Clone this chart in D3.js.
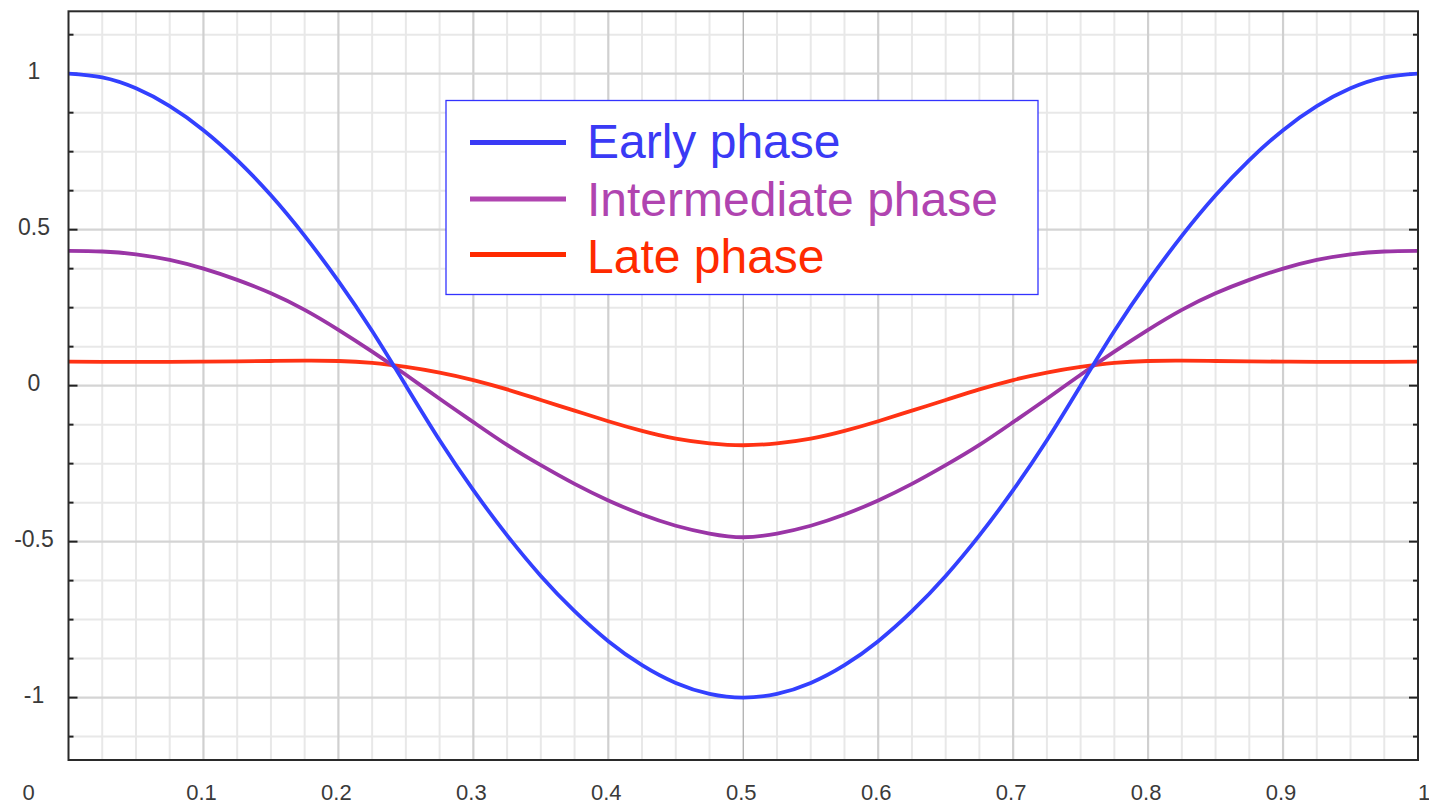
<!DOCTYPE html>
<html>
<head>
<meta charset="utf-8">
<script src="https://cdn.jsdelivr.net/npm/d3@7"></script>
<style>
  html, body { margin: 0; padding: 0; background: #fff; }
  svg { display: block; }
</style>
</head>
<body>
<svg id="chart" width="1429" height="805"></svg>
<script>
// ---------- data ----------
const xValues = [0, 0.025, 0.05, 0.075, 0.1, 0.125, 0.15, 0.175, 0.2, 0.225, 0.25, 0.275, 0.3, 0.325, 0.35, 0.375, 0.4, 0.425, 0.45, 0.475, 0.5,
  0.525, 0.55, 0.575, 0.6, 0.625, 0.65, 0.675, 0.7, 0.725, 0.75, 0.775, 0.8, 0.825, 0.85, 0.875, 0.9, 0.925, 0.95, 0.975, 1];

const earlyPhase = [1.0, 0.988, 0.953, 0.896, 0.819, 0.723, 0.61, 0.48, 0.335, 0.175, 0.0, -0.175, -0.335, -0.48, -0.61, -0.723, -0.819, -0.896, -0.953, -0.988, -1.0,
  -0.988, -0.953, -0.896, -0.819, -0.723, -0.61, -0.48, -0.335, -0.175, 0.0, 0.175, 0.335, 0.48, 0.61, 0.723, 0.819, 0.896, 0.953, 0.988, 1.0];

const intermediatePhase = [0.432, 0.430, 0.421, 0.403, 0.375, 0.339, 0.296, 0.243, 0.179, 0.109, 0.035, -0.042, -0.117, -0.19, -0.255, -0.315, -0.368, -0.413, -0.449, -0.474, -0.486,
  -0.474, -0.449, -0.413, -0.368, -0.315, -0.255, -0.19, -0.117, -0.042, 0.035, 0.109, 0.179, 0.243, 0.296, 0.339, 0.375, 0.403, 0.421, 0.430, 0.432];

const latePhase = [0.077, 0.076, 0.076, 0.076, 0.077, 0.078, 0.079, 0.080, 0.079, 0.073, 0.060, 0.042, 0.018, -0.012, -0.046, -0.080, -0.114, -0.145, -0.170, -0.185, -0.191,
  -0.185, -0.170, -0.145, -0.114, -0.080, -0.046, -0.012, 0.018, 0.042, 0.060, 0.073, 0.079, 0.080, 0.079, 0.078, 0.077, 0.076, 0.076, 0.076, 0.077];

const seriesNames = ["Early phase", "Intermediate phase", "Late phase"];
const seriesColors = ["#3340ff", "#9a35a6", "#ff3214"];
const legendTextColors = ["#3a3af5", "#b044b0", "#ff2a00"];

const xTickValues = [0, 0.1, 0.2, 0.3, 0.4, 0.5, 0.6, 0.7, 0.8, 0.9, 1];
const xTickLabels = ["0", "0.1", "0.2", "0.3", "0.4", "0.5", "0.6", "0.7", "0.8", "0.9", "1"];
const yTickValues = [1, 0.5, 0, -0.5, -1];
const yTickLabels = ["1", "0.5", "0", "-0.5", "-1"];

// ---------- layout ----------
(function () {
const svg = d3.select("#chart");
const pL = 68.5, pR = 1418, pT = 11.3, pB = 760;
const x = d3.scaleLinear().domain([0, 1]).range([pL, pR]);
const y = d3.scaleLinear().domain([-1.2, 1.2]).range([pB, pT]);

const g = svg.append("g");

// minor grid
const minorX = d3.range(0, 41).map(i => i * 0.025).filter(v => Math.abs(v * 10 - Math.round(v * 10)) > 1e-6);
const minorY = d3.range(-9, 10).map(i => i * 0.125).filter(v => Math.abs(v * 2 - Math.round(v * 2)) > 1e-6);
g.selectAll("line.mx").data(minorX).enter().append("line")
  .attr("x1", d => x(d)).attr("x2", d => x(d)).attr("y1", pT).attr("y2", pB)
  .attr("stroke", "#e8e8e8").attr("stroke-width", 2);
g.selectAll("line.my").data(minorY).enter().append("line")
  .attr("y1", d => y(d)).attr("y2", d => y(d)).attr("x1", pL).attr("x2", pR)
  .attr("stroke", "#e8e8e8").attr("stroke-width", 2);

// major grid
const majorX = xTickValues.filter(v => v > 0 && v < 1);
g.selectAll("line.Mx").data(majorX).enter().append("line")
  .attr("x1", d => x(d)).attr("x2", d => x(d)).attr("y1", pT).attr("y2", pB)
  .attr("stroke", d => d === 0.5 ? "#a8a8a8" : "#d0d0d0")
  .attr("stroke-width", d => d === 0.5 ? 1.2 : 2.2);
const majorY = [-1, -0.5, 0, 0.5, 1];
g.selectAll("line.My").data(majorY).enter().append("line")
  .attr("y1", d => y(d)).attr("y2", d => y(d)).attr("x1", pL).attr("x2", pR)
  .attr("stroke", "#d4d4d4").attr("stroke-width", 2.2);

// y ticks on both sides (inward)
const allYTicks = d3.range(-9, 10).map(i => i * 0.125);
const isMajorY = v => Math.abs(v * 2 - Math.round(v * 2)) < 1e-6;
[pL, pR].forEach((xp, side) => {
  const dir = side === 0 ? 1 : -1;
  g.selectAll(null).data(allYTicks).enter().append("line")
    .attr("x1", xp).attr("x2", d => xp + dir * (isMajorY(d) ? 9 : 5))
    .attr("y1", d => y(d)).attr("y2", d => y(d))
    .attr("stroke", "#222").attr("stroke-width", 2);
});

// curves
const line = d3.line().x(d => x(d[0])).y(d => y(d[1])).curve(d3.curveNatural);
const allSeries = [earlyPhase, intermediatePhase, latePhase];
svg.append("clipPath").attr("id", "clip").append("rect")
  .attr("x", pL).attr("y", pT).attr("width", pR - pL).attr("height", pB - pT);
const curves = g.append("g").attr("clip-path", "url(#clip)");
[2, 1, 0].forEach(i => {
  curves.append("path")
    .datum(xValues.map((xv, j) => [xv, allSeries[i][j]]))
    .attr("d", line)
    .attr("fill", "none")
    .attr("stroke", seriesColors[i])
    .attr("stroke-width", 3.8)
    .attr("stroke-linejoin", "round");
});

// frame
g.append("rect").attr("x", pL).attr("y", pT).attr("width", pR - pL).attr("height", pB - pT)
  .attr("fill", "none").attr("stroke", "#2a2a2a").attr("stroke-width", 2);

// tick labels
const font = "'Liberation Sans', Arial, Helvetica, sans-serif";
g.selectAll("text.xl").data(xTickValues).enter().append("text")
  .attr("x", (d, i) => i === 0 ? x(d) - 40 : (i === xTickValues.length - 1 ? x(d) + 6 : x(d) - 2))
  .attr("y", 800)
  .attr("text-anchor", "middle")
  .attr("font-family", font).attr("font-size", 22).attr("fill", "#3a3a3a")
  .text((d, i) => xTickLabels[i]);
g.selectAll("text.yl").data(yTickValues).enter().append("text")
  .attr("x", 34)
  .attr("y", d => y(d) + 5)
  .attr("text-anchor", "middle")
  .attr("font-family", font).attr("font-size", 23).attr("fill", "#3a3a3a")
  .text((d, i) => yTickLabels[i]);

// legend
const legend = g.append("g");
legend.append("rect").attr("x", 446).attr("y", 100.5).attr("width", 592).attr("height", 194)
  .attr("fill", "#fff").attr("stroke", "#3333ff").attr("stroke-width", 1.3);
const legendLineY = [142.5, 199, 254.5];
const legendTextY = [158, 216, 273];
seriesNames.forEach((name, i) => {
  legend.append("line").attr("x1", 470).attr("x2", 566)
    .attr("y1", legendLineY[i]).attr("y2", legendLineY[i])
    .attr("stroke", legendTextColors[i]).attr("stroke-width", 5);
  legend.append("text").attr("x", 587).attr("y", legendTextY[i])
    .attr("font-family", font).attr("font-size", 48).attr("fill", legendTextColors[i])
    .text(name);
});
})();
</script>
</body>
</html>
